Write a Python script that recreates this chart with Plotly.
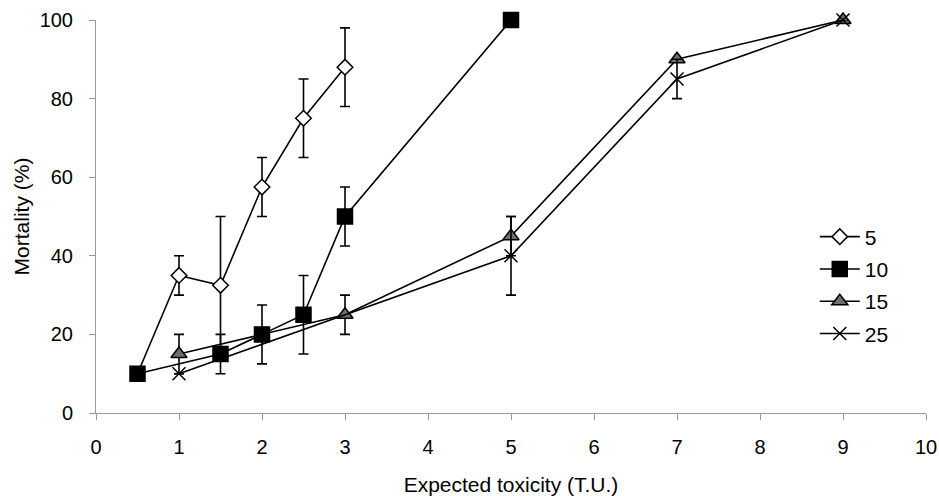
import plotly.graph_objects as go

# Data
series_names = ["5", "10", "15", "25"]

x_5 = [0.5, 1, 1.5, 2, 2.5, 3]
y_5 = [10, 35, 32.5, 57.5, 75, 88]
e_5 = [None, 5, 17.5, 7.5, 10, 10]

x_10 = [0.5, 1.5, 2, 2.5, 3, 5]
y_10 = [10, 15, 20, 25, 50, 100]
e_10 = [None, 5, 7.5, 10, 7.5, None]

x_15 = [1, 3, 5, 7, 9]
y_15 = [15, 25, 45, 90, 100]
e_15 = [5, 5, 5, None, None]

x_25 = [1, 5, 7, 9]
y_25 = [10, 40, 85, 100]
e_25 = [None, 10, 5, None]

x_ticks = list(range(0, 11))
y_ticks = [0, 20, 40, 60, 80, 100]

FONT = "Arial, 'Liberation Sans', sans-serif"

styles = [
    dict(symbol="diamond", color="white", size=12),
    dict(symbol="square", color="black", size=15),
    dict(symbol="triangle-up", color="#6e6e6e", size=14),
    dict(symbol="x-thin", color="black", size=13),
]
data = [(x_5, y_5, e_5), (x_10, y_10, e_10), (x_15, y_15, e_15), (x_25, y_25, e_25)]

fig = go.Figure()

# series "5" starts at the shared point (0.5, 10), which shows only the square
fig.add_trace(go.Scatter(
    x=x_5[:2], y=y_5[:2], mode="lines", showlegend=False, hoverinfo="skip",
    line=dict(color="black", width=1.6), cliponaxis=False, legendgroup="5",
))

for name, (xs, ys, es), st in zip(series_names, data, styles):
    if name == "5":
        xs, ys, es = xs[1:], ys[1:], es[1:]
    fig.add_trace(go.Scatter(
        x=xs, y=ys, name=name, mode="lines+markers", legendgroup=name,
        line=dict(color="black", width=1.6),
        marker=dict(symbol=st["symbol"], size=st["size"], color=st["color"],
                    line=dict(color="black", width=1.5)),
        error_y=dict(type="data", array=es, visible=True, color="black",
                     thickness=1.6, width=5),
        cliponaxis=False,
    ))

fig.update_layout(
    width=939, height=496,
    margin=dict(l=96, r=13, t=20, b=83, autoexpand=False),
    paper_bgcolor="white", plot_bgcolor="white",
    font=dict(family=FONT, color="black", size=20),
    showlegend=True,
    legend=dict(x=0.866, y=0.5, xanchor="left", yanchor="top",
                bgcolor="rgba(0,0,0,0)", font=dict(size=21),
                itemwidth=40, tracegroupgap=2, traceorder="grouped"),
    xaxis=dict(range=[0, 10], tickvals=x_ticks, ticks="outside", ticklen=6,
               tickcolor="#999999", showline=True, linecolor="#999999",
               linewidth=1, showgrid=False, zeroline=False, automargin=False,
               ticklabelstandoff=10,
               title=dict(text="Expected toxicity (T.U.)", font=dict(size=21),
                          standoff=24)),
    yaxis=dict(range=[0, 100], tickvals=y_ticks, ticks="outside", ticklen=6,
               tickcolor="#999999", showline=True, linecolor="#999999",
               linewidth=1, showgrid=False, zeroline=False, automargin=False,
               ticklabelstandoff=12,
               title=dict(text="Mortality (%)", font=dict(size=21),
                          standoff=4)),
)

fig.write_html(
    "out.html",
    config={"displayModeBar": False},
    post_script="document.body.style.margin='0';document.body.style.overflow='hidden';",
)
